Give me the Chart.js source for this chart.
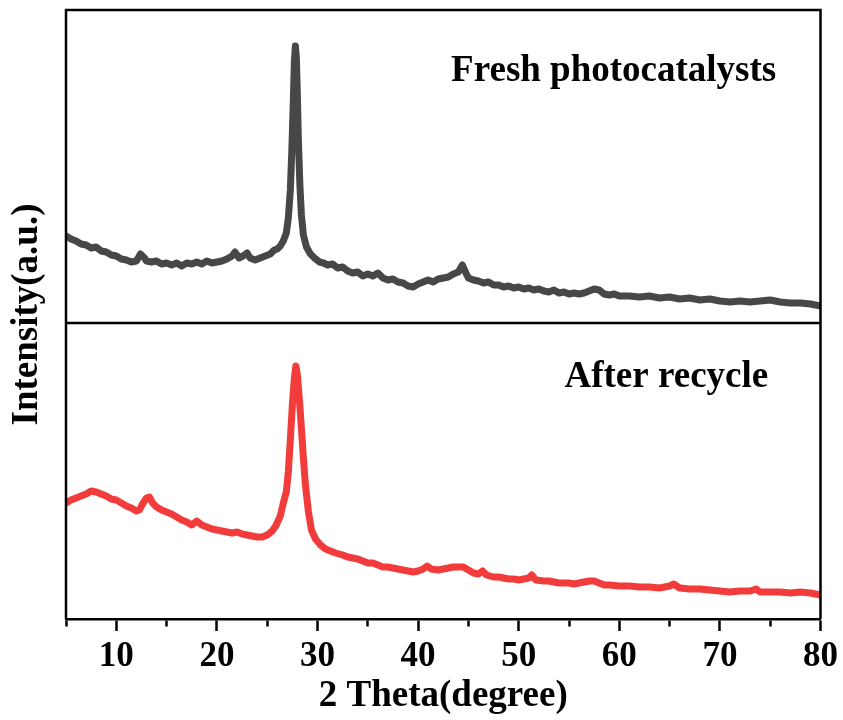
<!DOCTYPE html>
<html>
<head>
<meta charset="utf-8">
<script src="https://cdn.jsdelivr.net/npm/chart.js@4.4.1/dist/chart.umd.min.js"></script>
<style>
  html, body { margin: 0; padding: 0; background: #ffffff; }
  #wrap { width: 843px; height: 720px; }
</style>
</head>
<body>
<div id="wrap"><canvas id="c" width="843" height="720"></canvas></div>
<script>
// ---------------- data ----------------
const freshTheta = [5.0,5.5,6.0,6.5,7.0,7.5,8.0,8.5,9.0,9.5,10.0,10.5,11.0,11.5,12.0,12.4,12.8,13.0,13.5,14.0,14.5,15.0,15.5,16.0,16.5,17.0,17.5,18.0,18.5,19.0,19.5,20.0,20.5,21.0,21.5,21.8,22.2,22.6,23.0,23.3,23.8,24.3,24.8,25.3,25.7,26.0,26.3,26.6,26.9,27.1,27.3,27.45,27.6,27.7,27.8,27.9,28.0,28.1,28.25,28.4,28.6,28.9,29.3,29.7,30.2,30.6,31.0,31.5,32.0,32.5,33.0,33.5,34.0,34.5,35.0,35.5,36.0,36.5,37.0,37.5,38.0,38.5,39.0,39.5,40.0,40.5,41.0,41.5,42.0,42.5,43.0,43.5,44.0,44.4,44.7,45.0,45.5,46.0,46.5,47.0,47.5,48.0,48.5,49.0,49.5,50.0,50.5,51.0,51.5,52.0,52.5,53.0,53.5,54.0,54.5,55.0,55.5,56.0,56.5,57.0,57.5,58.0,58.5,59.0,59.5,60.0,61.0,62.0,63.0,64.0,65.0,66.0,67.0,68.0,69.0,70.0,71.0,72.0,73.0,74.0,75.0,76.0,77.0,78.0,79.0,80.0];
const freshIntensity = [870,840,820,790,780,750,760,720,710,680,670,640,630,610,620,690,650,620,610,620,590,600,580,600,570,600,590,610,590,620,600,610,620,640,670,710,650,670,700,650,630,650,670,690,730,740,770,820,900,1050,1330,1730,2230,2610,2770,2650,2280,1830,1380,1080,880,760,690,650,610,600,580,590,550,560,520,500,510,470,490,470,500,450,430,440,410,400,370,360,390,410,430,410,440,450,460,490,510,580,510,450,430,420,400,410,380,380,360,370,350,360,340,350,330,340,320,310,330,300,310,290,300,290,300,320,340,330,290,280,290,270,270,260,270,250,260,240,250,230,240,220,210,220,210,220,230,210,200,200,190,170];

const recycledTheta = [5.0,5.5,6.0,6.5,7.0,7.5,8.0,8.5,9.0,9.5,10.0,10.5,11.0,11.5,12.0,12.3,12.6,13.0,13.3,13.6,14.0,14.5,15.0,15.5,16.0,16.5,17.0,17.5,18.0,18.5,19.0,19.5,20.0,20.5,21.0,21.5,22.0,22.5,23.0,23.5,24.0,24.5,25.0,25.5,25.9,26.3,26.6,26.9,27.1,27.3,27.5,27.7,27.85,28.0,28.2,28.4,28.6,28.8,29.1,29.4,29.8,30.3,30.8,31.3,31.8,32.5,33.0,33.5,34.0,34.5,35.0,35.5,36.0,36.5,37.0,37.5,38.0,38.5,39.0,39.5,40.0,40.5,40.9,41.3,42.0,42.5,43.0,43.5,44.0,44.5,45.0,45.5,46.0,46.4,46.8,47.5,48.0,48.5,49.0,49.5,50.0,50.5,51.0,51.3,51.7,52.5,53.0,53.5,54.0,54.5,55.0,55.5,56.0,56.5,57.0,57.5,58.0,58.5,59.0,60.0,61.0,62.0,63.0,64.0,65.0,65.4,66.0,67.0,68.0,69.0,70.0,71.0,72.0,73.0,73.6,74.0,75.0,76.0,77.0,78.0,79.0,80.0];
const recycledIntensity = [1160,1190,1210,1230,1250,1280,1270,1250,1230,1200,1190,1160,1130,1110,1080,1090,1150,1210,1220,1160,1120,1090,1070,1050,1020,990,970,940,980,940,920,900,890,880,870,860,870,850,840,830,820,820,840,880,940,1030,1160,1270,1470,1790,2140,2410,2530,2440,2190,1910,1610,1340,1070,890,800,740,700,680,660,640,620,610,600,580,560,560,540,520,520,510,500,490,480,470,480,500,530,500,490,500,510,520,520,520,490,460,450,480,440,420,420,410,400,400,390,400,410,440,390,380,380,370,360,360,360,350,360,370,380,380,360,340,340,330,330,320,320,310,330,350,310,300,300,290,280,270,280,280,300,270,270,270,260,270,260,240];

const seriesNames = ["Fresh photocatalysts", "After recycle"];
const seriesColors = ["#474747", "#f23c3c"];
const xTickValues = [10, 20, 30, 40, 50, 60, 70, 80];
const xRange = [5, 80];
const freshAxisMax = 3130;
const recycledAxisMax = 2960;
// label anchors (data coordinates): [theta, intensity]
const freshLabelAt = [75.6, 2420];
const recycledLabelAt = [74.8, 2320];

// ---------------- chart ----------------
const FONT = "'Liberation Serif', 'Times New Roman', serif";

const toPoints = (xs, ys) => xs.map((x, i) => ({ x: x, y: ys[i] }));

const framePlugin = {
  id: 'frame',
  afterDraw(chart) {
    const ctx = chart.ctx;
    const a = chart.chartArea;
    const yTop = chart.scales.yTop;
    ctx.save();
    ctx.strokeStyle = '#000';
    ctx.lineWidth = 2.5;
    ctx.beginPath();
    ctx.moveTo(a.left, a.bottom);
    ctx.lineTo(a.left, a.top);
    ctx.lineTo(a.right, a.top);
    ctx.lineTo(a.right, a.bottom);
    ctx.moveTo(a.left, yTop.bottom);
    ctx.lineTo(a.right, yTop.bottom);
    ctx.stroke();
    ctx.restore();
  }
};

const labelPlugin = {
  id: 'panelLabels',
  afterDatasetsDraw(chart) {
    const ctx = chart.ctx;
    const x = chart.scales.x;
    const items = [
      [seriesNames[0], freshLabelAt, chart.scales.yTop],
      [seriesNames[1], recycledLabelAt, chart.scales.yBot]
    ];
    ctx.save();
    ctx.fillStyle = '#000';
    ctx.font = "bold 37px " + FONT;
    ctx.textAlign = 'right';
    ctx.textBaseline = 'alphabetic';
    items.forEach(([txt, at, ys]) => {
      ctx.fillText(txt, x.getPixelForValue(at[0]), ys.getPixelForValue(at[1]));
    });
    ctx.restore();
  }
};

new Chart(document.getElementById('c'), {
  type: 'line',
  data: {
    datasets: [
      {
        label: seriesNames[0],
        data: toPoints(freshTheta, freshIntensity),
        xAxisID: 'x', yAxisID: 'yTop',
        borderColor: seriesColors[0],
        borderWidth: 7,
        pointRadius: 0,
        tension: 0,
        borderJoinStyle: 'round',
        borderCapStyle: 'round'
      },
      {
        label: seriesNames[1],
        data: toPoints(recycledTheta, recycledIntensity),
        xAxisID: 'x', yAxisID: 'yBot',
        borderColor: seriesColors[1],
        borderWidth: 7,
        pointRadius: 0,
        tension: 0,
        borderJoinStyle: 'round',
        borderCapStyle: 'round'
      }
    ]
  },
  options: {
    responsive: false,
    animation: false,
    devicePixelRatio: 1,
    layout: { padding: { left: 0, right: 21, top: 10, bottom: 0 } },
    plugins: {
      legend: { display: false },
      tooltip: { enabled: false }
    },
    scales: {
      x: {
        type: 'linear',
        position: 'bottom',
        min: xRange[0],
        max: xRange[1],
        afterFit(s) { s.height = 101; },
        ticks: {
          stepSize: 5,
          autoSkip: false,
          maxRotation: 0,
          padding: 5,
          color: '#000',
          font: { family: FONT, size: 35, weight: 'bold' },
          callback: (v) => xTickValues.includes(v) ? String(v) : ''
        },
        grid: {
          drawOnChartArea: false,
          drawTicks: true,
          tickLength: 12,
          tickWidth: 2.5,
          tickColor: '#000',
          tickBorderDash: (ctx) => (ctx.tick && xTickValues.includes(ctx.tick.value)) ? [] : [6, 60]
        },
        border: { display: true, color: '#000', width: 2.5 },
        title: {
          display: true,
          text: '2 Theta(degree)',
          color: '#000',
          font: { family: FONT, size: 37, weight: 'bold' },
          padding: { top: 0, bottom: 1 }
        }
      },
      yBot: {
        type: 'linear',
        position: 'left',
        stack: 'panels',
        stackWeight: 296,
        min: 0,
        max: recycledAxisMax,
        afterFit(s) { s.width = 0; },
        ticks: { display: false },
        grid: { display: false },
        border: { display: false }
      },
      yTop: {
        type: 'linear',
        position: 'left',
        stack: 'panels',
        stackWeight: 313,
        min: 0,
        max: freshAxisMax,
        afterFit(s) { s.width = 0; },
        ticks: { display: false },
        grid: { display: false },
        border: { display: false }
      },
      yTitle: {
        type: 'linear',
        position: 'left',
        afterFit(s) { s.width = 66; },
        ticks: { display: false },
        grid: { display: false },
        border: { display: false },
        title: {
          display: true,
          text: 'Intensity(a.u.)',
          color: '#000',
          font: { family: FONT, size: 37, weight: 'bold' },
          padding: { top: 5, bottom: 4 }
        }
      }
    }
  },
  plugins: [framePlugin, labelPlugin]
});
</script>
</body>
</html>
